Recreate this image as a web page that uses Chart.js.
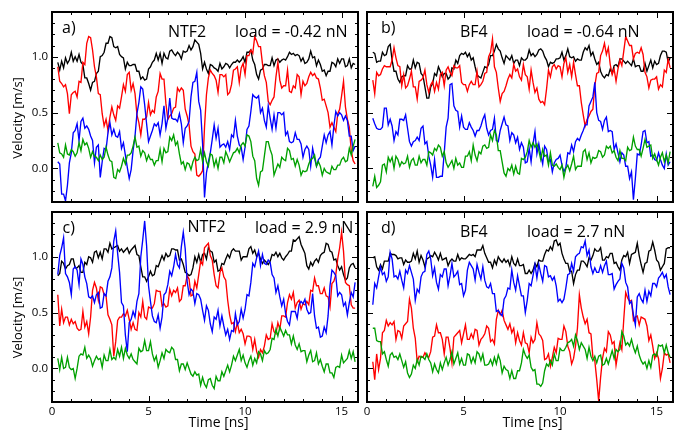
<!DOCTYPE html>
<html><head><meta charset="utf-8">
<script src="https://cdn.jsdelivr.net/npm/chart.js@4.4.1/dist/chart.umd.min.js"></script>
<style>
html,body{margin:0;padding:0;background:#fff;}
#wrap{position:relative;width:674px;height:432px;overflow:hidden;background:#fff;}
#wrap canvas{position:absolute;left:0;top:0;}
</style></head><body>
<div id="wrap">
<canvas id="pa" width="674" height="432"></canvas>
<canvas id="pb" width="674" height="432"></canvas>
<canvas id="pc" width="674" height="432"></canvas>
<canvas id="pd" width="674" height="432"></canvas>
</div>
<script>
// ---------- data ----------
const timeNs = [
0.3,0.4,0.5,0.6,0.7,0.8,0.9,1.0,1.1,1.2,
1.3,1.4,1.5,1.6,1.7,1.8,1.9,2.0,2.1,2.2,
2.3,2.4,2.5,2.6,2.7,2.8,2.9,3.0,3.1,3.2,
3.3,3.4,3.5,3.6,3.7,3.8,3.9,4.0,4.1,4.2,
4.3,4.4,4.5,4.6,4.7,4.8,4.9,5.0,5.1,5.2,
5.3,5.4,5.5,5.6,5.7,5.8,5.9,6.0,6.1,6.2,
6.3,6.4,6.5,6.6,6.7,6.8,6.9,7.0,7.1,7.2,
7.3,7.4,7.5,7.6,7.7,7.8,7.9,8.0,8.1,8.2,
8.3,8.4,8.5,8.6,8.7,8.8,8.9,9.0,9.1,9.2,
9.3,9.4,9.5,9.6,9.7,9.8,9.9,10.0,10.1,10.2,
10.3,10.4,10.5,10.6,10.7,10.8,10.9,11.0,11.1,11.2,
11.3,11.4,11.5,11.6,11.7,11.8,11.9,12.0,12.1,12.2,
12.3,12.4,12.5,12.6,12.7,12.8,12.9,13.0,13.1,13.2,
13.3,13.4,13.5,13.6,13.7,13.8,13.9,14.0,14.1,14.2,
14.3,14.4,14.5,14.6,14.7,14.8,14.9,15.0,15.1,15.2,
15.3,15.4,15.5,15.6,15.7];

// panel a) NTF2, load = -0.42 nN
const aBlack = [
.95,.88,.96,.90,.99,.94,.97,1.04,.96,1.00,
.96,1.02,.95,.93,.81,.81,.76,.70,.77,.78,
.85,.87,1.00,1.01,1.04,1.12,1.12,1.18,1.17,1.09,
1.08,1.09,1.02,1.00,.99,.89,.95,.92,.92,.93,
.93,.87,.87,.80,.82,.79,.80,.89,.91,.95,
.97,1.03,.97,1.03,.94,1.03,.99,.98,1.05,1.06,
1.03,1.01,1.04,1.02,.98,1.05,1.04,1.05,1.10,1.06,
1.09,1.15,1.13,1.11,1.03,.89,.95,.89,.85,.93,
.92,.90,.89,.87,.94,.89,.91,.94,.93,.90,
.93,.95,.95,.97,.95,.97,1.00,.95,1.04,1.04,
1.06,.97,.93,.84,.80,.88,.89,.93,.93,.92,
.92,.99,.92,.97,.98,.95,.97,.98,.97,1.00,
1.04,1.02,1.03,1.01,1.02,1.01,.96,.99,.94,.95,
.98,1.05,.99,1.00,.92,.97,.93,.87,.88,.83,
.87,.87,.95,.94,.91,.98,.94,.98,.98,.91,
.92,.98,.90,.94,.93];
const aRed = [
.91,.78,.76,.73,.75,.67,.49,.66,.68,.69,
.64,.78,.77,.95,.93,1.12,1.18,1.17,1.06,.91,
.82,.67,.66,.49,.38,.44,.34,.46,.55,.48,
.43,.56,.54,.64,.75,.69,.84,.86,.70,.76,
.67,.48,.41,.30,.44,.44,.46,.59,.48,.52,
.50,.64,.69,.85,.80,.80,.58,.44,.47,.49,
.54,.55,.72,.69,.72,.70,.53,.47,.39,.20,
.15,.13,-.06,-.07,-.05,-.02,.37,.66,.81,.88,
.85,.83,.79,.68,.84,.84,.82,.84,.66,.68,
.75,.88,.89,.91,.77,.90,.94,.84,1.01,1.01,
1.06,1.03,1.18,1.14,1.09,1.09,.94,.83,.77,.60,
.57,.61,.64,.82,.95,.79,.72,.74,.74,.88,
.69,.68,.74,.72,.84,.82,.66,.78,.74,.76,
.82,.86,.83,.85,.81,.80,.72,.61,.62,.56,
.50,.37,.41,.37,.33,.49,.53,.65,.78,.55,
.44,.37,.16,.07,.04];
const aBlue = [
.06,.04,-.23,-.23,-.29,-.15,.05,.14,.32,.34,
.40,.25,.42,.45,.36,.38,.35,.29,.25,.05,
.19,.21,-.08,.06,.18,.17,.32,.41,.30,.35,
.29,.28,.33,.18,.23,.12,.01,-.09,-.01,.16,
.29,.49,.59,.73,.71,.57,.40,.24,.29,.34,
.40,.38,.41,.30,.40,.56,.36,.45,.63,.45,
.44,.44,.42,.49,.40,.23,.36,.38,.42,.64,
.77,.78,.86,.60,.52,.22,-.26,-.04,.06,.14,
.26,.39,.27,.36,.19,.21,.22,.19,.24,.17,
.30,.28,.43,.29,.21,.19,.08,.19,.35,.38,
.51,.66,.64,.63,.65,.50,.54,.43,.37,.56,
.45,.35,.48,.36,.50,.50,.48,.50,.30,.33,
.24,.23,.24,.32,.26,.26,.22,.10,.17,.20,
.17,.02,.18,.09,.02,.08,.10,.20,.30,.23,
.30,.33,.21,.38,.51,.47,.50,.48,.43,.47,
.43,.29,.29,.16,.20];
const aGreen = [
.23,.14,.13,.10,.21,.13,.12,.17,.15,.11,
.14,.23,.16,.26,.21,.23,.18,.10,.15,.11,
.10,.07,.12,.08,.10,.19,.12,.07,.06,-.08,
-.09,-.01,-.03,.02,.09,.04,.12,.12,.14,.20,
.28,.19,.20,.11,.16,.14,.07,.12,.08,.08,
.03,.07,.07,.17,.06,.18,.14,.15,.28,.25,
.30,.21,.24,.13,.04,.06,-.01,.05,.04,-.01,
.06,.10,.07,.08,.17,.06,.14,.06,.02,.13,
.12,.02,.08,.00,.10,.10,.05,.15,.11,.06,
.10,.14,.15,.18,.14,.21,.23,.20,.30,.29,
.24,.11,.07,-.09,-.15,-.03,-.02,.11,.24,.24,
.17,.12,-.06,-.01,.04,.01,.10,.08,.07,.18,
.16,.08,.09,.02,.08,.03,-.06,-.02,-.03,-.02,
.04,.08,.09,.12,.02,.06,.02,-.06,.00,-.03,
-.04,-.05,.02,-.01,-.01,.03,.03,.08,.10,.06,
.07,.18,.12,.20,.26];

// panel b) BF4, load = -0.64 nN
const bBlack = [
1.04,1.03,.95,.96,.96,1.04,1.01,1.02,1.09,1.11,
.97,.87,.87,.80,.77,.82,.83,.83,.92,.89,
.89,.97,.90,.95,.94,.85,.83,.73,.63,.63,
.73,.76,.85,.83,.91,.87,.82,.85,.85,.80,
.82,.90,.89,.97,.94,1.01,1.03,1.02,1.04,1.00,
1.03,.97,.99,.91,.84,.82,.81,.86,.91,.90,
.93,1.01,1.01,1.05,1.11,1.07,1.05,.99,.94,1.01,
.99,.97,1.01,.94,.97,.97,.92,.99,.97,.97,
.99,1.06,1.01,1.03,1.00,1.02,1.06,1.07,1.05,1.00,
.97,.91,.95,.94,.95,.98,.98,.99,1.04,.97,
1.01,1.07,1.00,.99,1.00,.96,.98,.97,.97,1.04,
1.08,1.06,1.10,1.01,1.04,.98,.93,.95,.87,.83,
.81,.84,.83,.89,.85,.92,.93,.91,.98,.98,
.96,.94,.96,.94,.92,.98,.91,.92,.92,.87,
.87,.94,.87,.92,.97,.90,.96,.93,.94,1.01,
1.05,1.05,1.04,.95,.99];
const bRed = [
.79,.67,.86,.83,.84,.89,.92,.91,.91,.91,
.97,1.08,.99,.92,.91,.74,.84,.72,.74,.80,
.87,.73,.73,.62,.78,.79,.81,.88,.75,.68,
.75,.78,.69,.77,.71,.84,.86,.74,.88,.91,
.86,.83,.92,.90,.90,.92,.77,.75,.75,.69,
.75,.78,.75,.75,.87,.73,.75,.78,.85,.86,
1.00,1.04,1.16,.91,.86,.72,.60,.67,.69,.74,
.80,.84,.81,.93,.87,.89,.82,.79,.93,.84,
.82,.71,.88,.77,.68,.72,.62,.59,.60,.57,
.71,.88,.82,.91,.93,.89,.92,.91,.82,.94,
.99,.86,.93,.82,.95,.84,.74,.74,.59,.48,
.38,.44,.47,.51,.53,.74,.85,.86,1.01,1.05,
1.12,1.02,1.08,.93,.84,.89,.78,.89,.97,.92,
1.05,1.18,1.14,1.10,1.10,.98,1.03,1.04,1.03,1.08,
1.02,.86,.82,.72,.79,.80,.80,.82,.71,.75,
.73,.88,.86,.98,.90];
const bBlue = [
.45,.40,.36,.35,.35,.37,.54,.54,.39,.44,
.38,.25,.33,.30,.44,.44,.43,.48,.36,.24,
.20,.24,.25,.28,.25,.36,.38,.22,.24,.11,
.03,-.08,.08,-.08,-.08,-.07,-.07,.14,.37,.45,
.75,.76,.56,.52,.51,.37,.47,.37,.35,.35,
.41,.37,.34,.29,.34,.34,.38,.44,.48,.36,
.30,.34,.35,.45,.25,.24,.34,.40,.46,.39,
.38,.25,.32,.30,.23,.28,.17,.23,.19,.05,
.06,.18,.06,.22,.33,.13,.22,.12,.04,.20,
.17,.06,.08,-.03,.05,.08,.09,.12,.03,-.03,
.01,.14,.13,.21,.15,.24,.27,.25,.30,.34,
.39,.39,.56,.60,.64,.77,.50,.43,.42,.35,
.43,.46,.33,.34,.33,.17,.22,.14,.06,.14,
.12,.02,.02,-.09,-.03,-.28,-.09,.13,.12,.21,
.33,.34,.23,.24,.11,.12,.08,.07,.14,.08,
.03,.00,.13,.03,.06];
const bGreen = [
-.16,-.07,-.17,-.15,-.12,.03,.04,-.03,.10,.06,
.10,.00,.11,.08,.02,.06,.04,.05,.11,.01,
.07,.09,.03,.03,.11,.05,.08,.08,.03,.15,
.14,.12,.18,.16,.21,.19,.11,.15,.05,.01,
.04,.07,.00,.09,.03,.05,.01,.01,.11,.11,
.15,.07,.21,.12,.07,.15,.13,.20,.21,.18,
.19,.30,.25,.34,.30,.16,.16,.06,-.04,-.07,
.00,-.02,.03,-.05,.02,-.04,-.05,.09,.08,.10,
.15,.25,.19,.23,.19,.22,.16,.08,.17,.11,
.12,.03,.14,.03,.02,.04,.01,-.01,.03,-.08,
.00,.03,-.02,.04,.11,-.01,.02,.02,.02,.15,
.17,.08,.14,.05,.10,.09,.10,.16,.15,.10,
.12,.20,.18,.20,.14,.16,.10,.07,.16,.09,
.09,.07,.19,.16,.17,.28,.20,.17,.17,.11,
.18,.26,.19,.20,.21,.09,.13,.08,.03,.10,
.14,.06,.12,.05,.15];

// panel c) NTF2, load = 2.9 nN
const cBlack = [
.83,.85,.96,.94,.89,.92,.93,.98,.98,.90,
.90,.92,.86,.86,.95,.93,1.00,.99,.95,1.04,
1.05,.99,1.04,.98,1.07,1.07,1.04,1.12,1.07,1.08,
1.09,1.10,1.05,1.07,1.04,1.06,1.08,1.03,1.06,1.08,
1.10,1.02,1.01,.91,.82,.82,.78,.82,.87,.83,
.84,.92,.91,.96,1.01,.97,1.03,1.00,1.01,1.07,
1.07,1.06,1.06,.97,.98,.93,.86,.85,.83,.84,
.90,1.00,.95,1.02,.95,1.02,1.03,.98,1.08,1.05,
1.04,.95,.97,.87,.88,.94,.93,.98,1.02,.99,
1.05,1.07,1.05,1.05,1.05,.97,1.00,1.00,1.00,1.07,
1.09,1.03,1.06,1.00,1.03,.98,.94,.97,.95,.93,
.96,1.02,1.01,1.04,1.00,1.03,.99,.97,1.00,1.02,
1.05,1.05,1.15,1.14,1.16,1.18,1.11,1.07,1.03,.92,
.89,.95,.92,.96,.98,.95,1.01,1.03,1.04,1.12,
1.11,1.05,1.04,.97,.98,.92,.88,.91,.84,.79,
.81,.90,.93,.94,.90];
const cRed = [
.66,.38,.53,.41,.46,.46,.39,.44,.40,.42,
.36,.34,.35,.51,.37,.42,.31,.46,.70,.77,
.72,.61,.73,.72,.66,.65,.48,.44,.39,.11,
.24,.43,.46,.46,.49,.47,.52,.44,.35,.41,
.35,.34,.50,.46,.60,.46,.44,.55,.54,.54,
.58,.70,.69,.69,.56,.58,.55,.56,.71,.65,
.70,.68,.72,.60,.62,.74,.74,.83,.80,.65,
.66,.78,.72,.84,.96,.93,1.08,1.10,1.12,1.01,
.97,.84,.74,.72,.86,.90,.82,.79,.61,.48,
.40,.41,.33,.41,.32,.35,.31,.22,.29,.29,
.28,.17,.26,.15,.10,.17,.14,.20,.30,.26,
.27,.40,.33,.31,.41,.35,.47,.47,.46,.59,
.66,.62,.68,.54,.59,.61,.53,.58,.57,.60,
.57,.70,.69,.81,.74,.74,.67,.67,.72,.65,
.64,.55,.76,.78,.84,.98,1.08,1.22,1.05,.77,
.75,.74,.57,.54,.54];
const cBlue = [
.84,1.01,1.08,1.17,.85,.82,.77,.66,.89,.91,
.88,.75,.98,.93,.82,.76,.64,.63,.65,.59,
.66,.68,.54,.55,.67,.65,.78,.82,.90,1.14,
1.23,1.03,.86,.59,.56,.30,.15,.41,.44,.51,
.46,.60,.67,1.00,1.15,1.32,1.10,.74,.60,.47,
.42,.41,.48,.36,.46,.66,.68,.75,.87,.83,
.91,1.02,.93,.90,1.09,1.22,1.07,.78,.66,.71,
.69,.58,.67,.66,.62,.52,.43,.56,.52,.40,
.33,.46,.44,.52,.38,.47,.38,.30,.35,.26,
.34,.33,.49,.39,.42,.53,.45,.53,.66,.65,
.77,.94,.91,.99,1.05,.92,1.02,.94,.93,.97,
.95,.84,.81,.68,.74,.64,.56,.62,.49,.42,
.39,.51,.51,.51,.45,.57,.60,.58,.62,.53,
.49,.50,.67,.47,.36,.37,.28,.29,.37,.32,
.47,.74,.88,.86,.83,.65,.68,.66,.56,.59,
.48,.59,.68,.64,.77];
const cGreen = [
.09,-.01,.10,.00,.01,.10,.01,-.01,.00,-.09,
.00,.11,.13,.12,.19,.09,.12,.09,.02,.07,
.11,.08,.09,.01,.12,.07,.07,.17,.08,.10,
.08,.17,.11,.19,.09,.18,.12,.09,.13,.08,
.06,.04,.18,.15,.16,.25,.16,.16,.24,.13,
.07,.11,.01,.07,.14,.09,.17,.15,.14,.19,
.17,.08,.08,-.02,.04,.04,-.01,.05,.00,-.05,
-.07,-.03,-.06,-.05,-.15,-.08,-.14,-.17,-.10,-.09,
-.15,-.18,-.07,-.11,-.11,-.03,-.07,-.02,.03,-.03,
.03,.11,.07,.12,.17,.07,.12,.05,.01,.07,
.11,.03,.09,.05,.15,.13,.07,.16,.13,.14,
.17,.27,.26,.35,.29,.37,.33,.29,.34,.30,
.30,.22,.29,.21,.17,.22,.15,.16,.16,.06,
.12,.16,.06,.07,.14,.04,.08,.02,-.03,.04,
.04,-.04,-.04,-.08,.01,.02,.01,.12,.05,.07,
.09,.16,.09,.15,.06];

// panel d) BF4, load = 2.7 nN
const dBlack = [
.99,1.00,.91,.88,.93,.89,.96,.96,.96,1.03,
1.02,1.02,1.01,.98,.99,.99,.93,.97,.95,.95,
.96,1.03,.98,1.05,.95,1.01,.97,.91,.98,.99,
1.01,1.00,1.04,1.01,.97,1.03,.97,.98,.99,.92,
.96,.98,.96,.96,1.02,.97,.99,.98,.98,1.00,
1.02,1.01,1.02,1.00,1.06,1.06,1.06,1.10,1.03,.99,
.95,.95,.90,.97,.93,1.00,.97,.95,.98,.95,
.97,.92,1.00,.94,.92,.98,.92,.92,.93,.85,
.85,.88,.85,.88,.94,.91,.97,.96,.96,1.02,
1.06,1.05,1.09,1.06,1.14,1.15,1.10,1.12,1.03,.98,
.94,.94,.87,.87,.76,.84,.88,.88,.96,.96,
.94,.91,.99,.97,1.01,1.07,1.05,1.05,1.08,.97,
.97,1.00,.99,1.03,1.03,.94,.95,.91,.88,.97,
1.01,1.00,1.04,.94,1.02,1.03,1.04,1.12,1.01,.93,
.86,.94,.95,1.05,1.06,1.13,1.06,.97,.95,.88,
.91,.94,1.07,1.08,1.08];
const dRed = [
.06,-.10,.13,-.01,.09,.32,.34,.43,.38,.41,
.39,.42,.26,.34,.33,.27,.38,.40,.42,.62,
.54,.36,.27,.06,.11,.10,.10,.14,.11,.10,
.15,.28,.29,.39,.32,.32,.26,.13,.28,.28,
.18,.05,.28,.30,.32,.34,.23,.31,.39,.26,
.26,.31,.27,.35,.34,.21,.26,.28,.31,.38,
.36,.24,.26,.22,.44,.52,.48,.52,.43,.39,
.35,.40,.32,.36,.23,.32,.25,.21,.32,.23,
.22,.14,.28,.23,.26,.41,.31,.29,.25,.08,
.09,.13,.02,.10,.19,.14,.27,.26,.26,.38,
.33,.20,.15,.04,.09,.20,.36,.66,.54,.46,
.40,.44,.32,.31,.10,.07,-.10,-.29,-.08,.09,
.18,.15,.33,.30,.22,.24,.03,.14,.23,.17,
.44,.68,.63,.60,.61,.43,.46,.47,.39,.46,
.45,.44,.38,.25,.30,.20,.09,.14,.09,-.09,
.00,.14,.12,.13,.05];
const dBlue = [
.57,.76,.72,.82,.91,.84,.86,.78,.82,1.04,
.98,.82,.83,.80,.87,.79,.72,.88,.85,.92,
.86,.80,.61,.71,.68,.82,.86,.87,1.02,1.05,
.98,.83,.90,.77,.71,.84,.82,.89,.89,.74,
.83,.94,.82,.84,.87,.75,.76,.65,.70,.88,
.95,.92,.89,.79,.93,.86,.80,.91,.79,.73,
.72,.76,.67,.67,.51,.52,.49,.47,.62,.65,
.72,.71,.88,.77,.70,.83,.74,.65,.65,.50,
.61,.76,.74,.83,.93,.81,.93,.85,.78,.92,
.91,.82,.83,.79,.82,.74,.60,.62,.59,.62,
.72,.84,.85,.94,.87,1.00,1.02,1.03,1.09,1.08,
1.14,1.01,1.06,.91,.85,.90,.86,.86,.92,.86,
.92,.96,.84,.84,.85,.71,.75,.78,.80,.94,
.90,.77,.73,.58,.60,.48,.39,.64,.67,.62,
.59,.70,.60,.69,.65,.76,.76,.73,.81,.83,
.86,.81,.84,.73,.66];
const dGreen = [
.36,.36,.25,.24,.24,.13,.15,.08,.02,.12,
.14,.10,.11,.08,.13,.07,.01,.06,-.04,-.08,
-.05,.03,.00,.08,.03,.11,.10,.08,.13,.08,
.05,-.03,.04,-.01,-.04,.05,-.01,.05,.10,.03,
.08,.15,.04,.09,.14,.04,.09,.03,.03,.13,
.12,.05,.10,.05,.15,.13,.07,.13,.03,.03,
.04,.08,.03,.10,.04,.12,.07,-.04,.02,-.01,
-.02,-.09,-.02,-.09,-.09,-.02,-.02,.05,.17,.12,
.09,.12,.01,-.02,-.01,-.14,-.14,-.16,-.13,-.02,
.04,.02,.07,.03,.13,.07,.07,.18,.16,.16,
.19,.23,.24,.26,.20,.30,.25,.17,.23,.20,
.17,.09,.19,.11,.07,.11,.05,.11,.12,.03,
.04,.09,.04,.10,.16,.09,.17,.15,.17,.33,
.29,.21,.23,.20,.26,.19,.14,.20,.12,.07,
.04,.06,.00,.07,.01,.12,.13,.11,.21,.20,
.21,.14,.21,.14,.10];

// axes / labels
const xTickValues = [0, 5, 10, 15];
const yTickValues = [0, 0.5, 1.0];
const xMinorTicks = [0,1,2,3,4,5,6,7,8,9,10,11,12,13,14,15];
const yMinorTicks = [-0.2,-0.1,0,0.1,0.2,0.3,0.4,0.5,0.6,0.7,0.8,0.9,1.0,1.1,1.2,1.3];
const panelTags = ['a)', 'b)', 'c)', 'd)'];
const liquidNames = ['NTF2', 'BF4', 'NTF2', 'BF4'];
const loadLabels = ['load = -0.42 nN', 'load = -0.64 nN', 'load = 2.9 nN', 'load = 2.7 nN'];
const xAxisTitle = 'Time [ns]';
const yAxisTitle = 'Velocity [m/s]';

// ---------- drawing ----------
const FONT = '"Open Sans", "DejaVu Sans", sans-serif';
const seriesStyle = [
  {color: '#000000', order: 3},
  {color: '#ff0000', order: 2},
  {color: '#0000ff', order: 1},
  {color: '#00a000', order: 0}
];

const panels = [
  {id:'pa', area:{l:52, t:12, r:358, b:202}, showX:false, showY:true, idx:0,
   series:[aBlack,aRed,aBlue,aGreen], tagOff:[10,21], liqOff:[116,24.5], loadOff:[183,24.5],
   yTitle:{x:18.5, y:118}, xTitle:null},
  {id:'pb', area:{l:367, t:12, r:673, b:202}, showX:false, showY:false, idx:1,
   series:[bBlack,bRed,bBlue,bGreen], tagOff:[14,21], liqOff:[93,24.5], loadOff:[160,24.5],
   yTitle:null, xTitle:null},
  {id:'pc', area:{l:52, t:212, r:358, b:402}, showX:true, showY:true, idx:2,
   series:[cBlack,cRed,cBlue,cGreen], tagOff:[10.5,20.5], liqOff:[135.5,20], loadOff:[203,20.5],
   yTitle:{x:18.5, y:317.5}, xTitle:{x:218.5, y:426.5}},
  {id:'pd', area:{l:367, t:212, r:673, b:402}, showX:true, showY:false, idx:3,
   series:[dBlack,dRed,dBlue,dGreen], tagOff:[14,21], liqOff:[93,24.5], loadOff:[160,24.5],
   yTitle:null, xTitle:{x:532.5, y:426.5}}
];

const framePlugin = {
  id: 'frameTicks',
  afterDatasetsDraw(chart, args, o) {
    const ctx = chart.ctx, ca = chart.chartArea;
    const xs = chart.scales.x, ys = chart.scales.y;
    ctx.save();
    ctx.strokeStyle = '#000';
    ctx.lineWidth = 1;
    ctx.beginPath();
    xMinorTicks.forEach(t => {
      const px = Math.round(xs.getPixelForValue(t)) + 0.5;
      const len = (t % 5 === 0) ? 6 : 3;
      ctx.moveTo(px, ca.bottom); ctx.lineTo(px, ca.bottom - len);
      ctx.moveTo(px, ca.top); ctx.lineTo(px, ca.top + len);
    });
    yMinorTicks.forEach(v => {
      const py = Math.round(ys.getPixelForValue(v)) + 0.5;
      const major = Math.abs(v * 2 - Math.round(v * 2)) < 1e-6;
      const len = major ? 6 : 3;
      ctx.moveTo(ca.left, py); ctx.lineTo(ca.left + len, py);
      ctx.moveTo(ca.right, py); ctx.lineTo(ca.right - len, py);
    });
    ctx.stroke();
    ctx.lineWidth = 2;
    ctx.strokeRect(ca.left, ca.top, ca.right - ca.left, ca.bottom - ca.top);

    const p = o.panel;
    ctx.fillStyle = '#000';
    ctx.textAlign = 'left';
    ctx.textBaseline = 'alphabetic';
    ctx.font = '16px ' + FONT;
    ctx.fillText(panelTags[p.idx], ca.left + p.tagOff[0], ca.top + p.tagOff[1]);
    ctx.fillText(liquidNames[p.idx], ca.left + p.liqOff[0], ca.top + p.liqOff[1]);
    ctx.fillText(loadLabels[p.idx], ca.left + p.loadOff[0], ca.top + p.loadOff[1]);
    if (p.yTitle) {
      ctx.save();
      ctx.translate(p.yTitle.x, p.yTitle.y);
      ctx.rotate(-Math.PI / 2);
      ctx.textAlign = 'center';
      ctx.textBaseline = 'middle';
      ctx.font = '13px ' + FONT;
      ctx.fillText(yAxisTitle, 0, 0);
      ctx.restore();
    }
    if (p.xTitle) {
      ctx.textAlign = 'center';
      ctx.font = '14px ' + FONT;
      ctx.fillText(xAxisTitle, p.xTitle.x, p.xTitle.y);
    }
    ctx.restore();
  }
};

function buildPanel(p) {
  const datasets = p.series.map((vals, i) => ({
    data: vals.map((v, k) => ({x: timeNs[k], y: v})),
    borderColor: seriesStyle[i].color,
    borderWidth: 1.35,
    pointRadius: 0,
    tension: 0,
    fill: false,
    order: seriesStyle[i].order
  }));
  const yW = p.showY ? 52 : 0;
  const xH = p.showX ? 30 : 0;
  new Chart(document.getElementById(p.id), {
    type: 'line',
    data: {datasets},
    plugins: [framePlugin],
    options: {
      responsive: false,
      animation: false,
      devicePixelRatio: 1,
      events: [],
      layout: {padding: {left: p.area.l - yW, right: 674 - p.area.r, top: p.area.t, bottom: 432 - p.area.b - xH}},
      plugins: {legend: {display: false}, tooltip: {enabled: false}, frameTicks: {panel: p}},
      scales: {
        x: {
          type: 'linear', min: 0, max: 15.85, position: 'bottom',
          grid: {display: false, drawTicks: false},
          border: {display: false},
          ticks: {display: p.showX, padding: 3, color: '#000', autoSkip: false, maxRotation: 0,
                  font: {family: FONT, size: 11.5}, callback: v => String(v)},
          afterBuildTicks: s => { s.ticks = xTickValues.map(v => ({value: v})); },
          afterFit: s => { s.height = xH; }
        },
        y: {
          type: 'linear', min: -0.3, max: 1.4, position: 'left',
          grid: {display: false, drawTicks: false},
          border: {display: false},
          ticks: {display: p.showY, padding: 4, color: '#000',
                  font: {family: FONT, size: 11.5}, callback: v => Number(v).toFixed(1)},
          afterBuildTicks: s => { s.ticks = yTickValues.map(v => ({value: v})); },
          afterFit: s => { s.width = yW; }
        }
      }
    }
  });
}

function start() { panels.forEach(buildPanel); }
if (document.fonts && document.fonts.load) {
  Promise.all([document.fonts.load('16px "Open Sans"'), document.fonts.load('12px "Open Sans"')])
    .then(start, start);
} else { start(); }
</script>
</body></html>
